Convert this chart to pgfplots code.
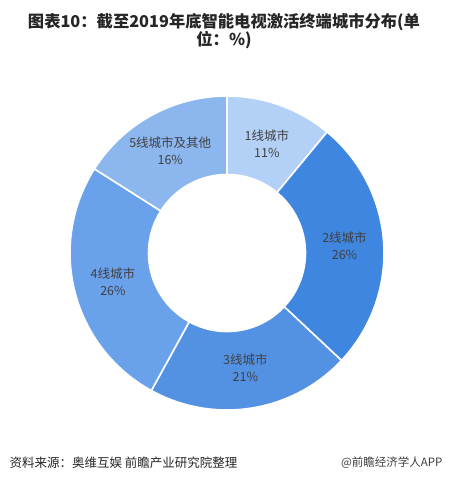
\documentclass[border=0pt]{standalone}
\usepackage{fontspec}
\setmainfont{Liberation Sans}
\newfontfamily\cjk{Noto Sans CJK SC}
\usepackage{pgfplots}
\pgfplotsset{compat=1.18}
\definecolor{c1}{HTML}{B3D1F7}
\definecolor{c2}{HTML}{3F86E0}
\definecolor{c3}{HTML}{5391E3}
\definecolor{c4}{HTML}{6AA1EB}
\definecolor{c5}{HTML}{8CB6EE}
\definecolor{lab}{HTML}{404040}
% values (%)
\def\vA{11}\def\vB{26}\def\vC{21}\def\vD{26}\def\vE{16}
\pgfmathsetmacro\aA{90}
\pgfmathsetmacro\aB{\aA-\vA*3.6}
\pgfmathsetmacro\aC{\aB-\vB*3.6}
\pgfmathsetmacro\aD{\aC-\vC*3.6}
\pgfmathsetmacro\aE{\aD-\vD*3.6}
\pgfmathsetmacro\aF{\aE-\vE*3.6}
\newcommand\donutwedge[3]{%
  \fill[#3, draw=white, line width=1.6pt]
    (axis cs:{cos(#1)},{sin(#1)}) arc[start angle=#1, end angle=#2, radius=157pt]
    -- (axis cs:{0.5*cos(#2)},{0.5*sin(#2)}) arc[start angle=#2, end angle=#1, radius=78.5pt] -- cycle;}
\newcommand\lbl[3]{%
  \node[align=center, text=lab, font=\cjk\fontsize{12.5}{17}\selectfont]
    at (axis cs:{0.75*cos((#1+#2)/2)},{0.74*sin((#1+#2)/2)}) {#3};}
\begin{document}
\begin{tikzpicture}
\path[use as bounding box, fill=white] (0pt,0pt) rectangle (449pt,483pt);
\node[align=center, font=\cjk\bfseries\fontsize{16.3}{18.5}\selectfont, text=black!85] at (224pt,452pt)
  {图表10：截至2019年底智能电视激活终端城市分布(单\\位：\%)};
\begin{axis}[at={(227pt,230pt)}, anchor=center, scale only axis, width=314pt, height=314pt,
  xmin=-1, xmax=1, ymin=-1, ymax=1, hide axis, clip=false]
\donutwedge{\aA}{\aB}{c1}
\donutwedge{\aB}{\aC}{c2}
\donutwedge{\aC}{\aD}{c3}
\donutwedge{\aD}{\aE}{c4}
\donutwedge{\aE}{\aF}{c5}
\lbl{\aA}{\aB}{1线城市\\11\%}
\lbl{\aB}{\aC}{2线城市\\26\%}
\lbl{\aC}{\aD}{3线城市\\21\%}
\lbl{\aD}{\aE}{4线城市\\26\%}
\lbl{\aE}{\aF}{5线城市及其他\\16\%}
\end{axis}
\node[anchor=west, font=\cjk\fontsize{12.5}{15}\selectfont, text=black!85] at (6pt,20pt) {资料来源：奥维互娱\ 前瞻产业研究院整理};
\node[anchor=east, font=\cjk\fontsize{11.5}{14}\selectfont, text=black!75] at (446pt,20pt) {@前瞻经济学人APP};
\end{tikzpicture}
\end{document}
